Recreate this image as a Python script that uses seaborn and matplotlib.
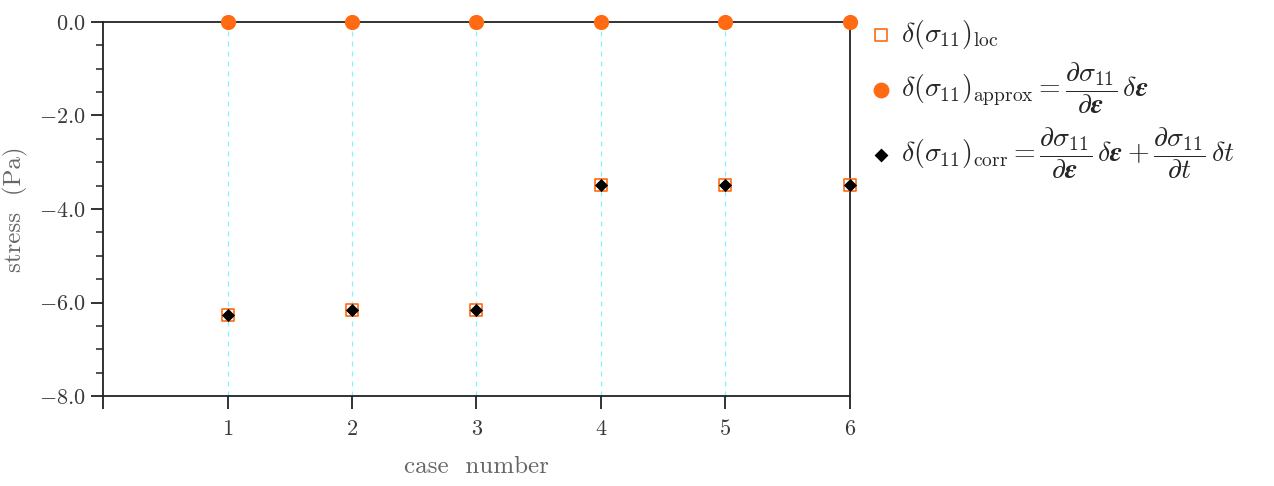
import matplotlib
matplotlib.use("Agg")
import matplotlib.pyplot as plt
import seaborn as sns
import pandas as pd
from matplotlib.ticker import MultipleLocator, FuncFormatter

# values
case_number = [1, 2, 3, 4, 5, 6]
stress_loc = [-6.27, -6.16, -6.16, -3.49, -3.49, -3.49]
stress_approx = [0.0, 0.0, 0.0, 0.0, 0.0, 0.0]
stress_corr = [-6.27, -6.16, -6.16, -3.49, -3.49, -3.49]

lbl_loc = r"$\delta(\sigma_{11})_{\mathrm{loc}}$"
lbl_approx = r"$\delta(\sigma_{11})_{\mathrm{approx}} = \dfrac{\partial\sigma_{11}}{\partial\boldsymbol{\epsilon}}\,\delta\boldsymbol{\epsilon}$"
lbl_corr = r"$\delta(\sigma_{11})_{\mathrm{corr}} = \dfrac{\partial\sigma_{11}}{\partial\boldsymbol{\epsilon}}\,\delta\boldsymbol{\epsilon} + \dfrac{\partial\sigma_{11}}{\partial t}\,\delta t$"

sns.set_style("ticks")
plt.rcParams["mathtext.fontset"] = "cm"
plt.rcParams["font.family"] = ["cmr10", "DejaVu Serif"]
plt.rcParams["axes.unicode_minus"] = True

df = pd.DataFrame({"case": case_number, "loc": stress_loc,
                   "approx": stress_approx, "corr": stress_corr})

fig = plt.figure(figsize=(12.74, 4.86), dpi=100)
ax = fig.add_axes([0.081, 0.185, 0.586, 0.770])

# faint guide lines per case
for c in case_number:
    ax.axvline(c, color="#80f4ff", lw=0.9, ls=(0, (4, 4)), zorder=0)

orange = "#ff6a13"
sns.scatterplot(data=df, x="case", y="loc", ax=ax, marker="s", s=85,
                facecolor="white", edgecolor=orange, linewidth=1.2,
                label=lbl_loc, zorder=3, clip_on=False)
sns.scatterplot(data=df, x="case", y="approx", ax=ax, marker="o", s=120,
                color=orange, edgecolor=orange, linewidth=0,
                label=lbl_approx, zorder=4, clip_on=False)
sns.scatterplot(data=df, x="case", y="corr", ax=ax, marker="D", s=45,
                color="black", edgecolor="black", linewidth=0,
                label=lbl_corr, zorder=5, clip_on=False)

ax.set_xlim(0, 6)
ax.set_ylim(-8, 0)
ax.set_xticks([0, 1, 2, 3, 4, 5, 6])
ax.set_xticklabels(["", "1", "2", "3", "4", "5", "6"])
ax.yaxis.set_major_locator(MultipleLocator(2))
ax.yaxis.set_minor_locator(MultipleLocator(0.5))
ax.yaxis.set_major_formatter(FuncFormatter(lambda v, p: f"${v:.1f}$"))
ax.tick_params(axis="both", which="major", direction="out", length=9,
               width=1.3, labelsize=16, labelcolor="#3a3a3a", color="#222222")
ax.tick_params(axis="x", which="major", pad=8)
ax.tick_params(axis="y", which="minor", direction="out", length=5,
               width=1.1, color="#222222")
for sp in ax.spines.values():
    sp.set_linewidth(1.3)
    sp.set_color("#222222")

ax.set_xlabel("case  number", fontsize=18, color="#666666", labelpad=12)
ax.set_ylabel("stress  (Pa)", fontsize=18, color="#666666", labelpad=8)

leg = ax.legend(loc="upper left", bbox_to_anchor=(1.005, 1.055), frameon=False,
                fontsize=20, handletextpad=0.3, labelspacing=0.35,
                handlelength=0.8, borderaxespad=0.2)
for h, sz in zip(leg.legend_handles, [85, 130, 50]):
    h.set_sizes([sz])

fig.savefig("out.png", dpi=100)
